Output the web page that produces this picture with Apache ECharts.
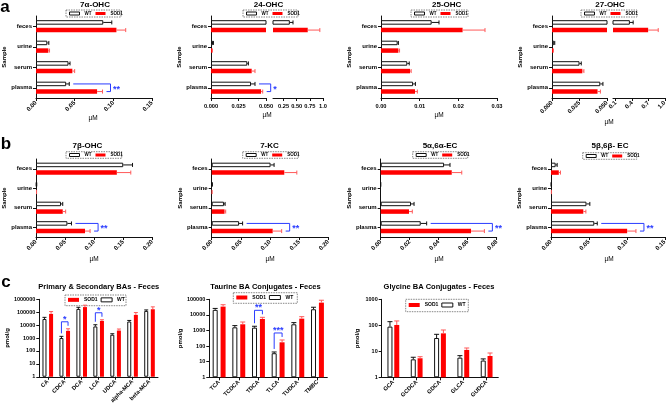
<!DOCTYPE html>
<html><head><meta charset="utf-8">
<script src="https://cdn.jsdelivr.net/npm/echarts/dist/echarts.min.js"></script>
<style>html,body{margin:0;padding:0;background:#fff}#c{width:669px;height:406px}</style>
</head><body><div id="c"></div>
<script>
// ================= DATA =================
const sampleCats = ['feces', 'urine', 'serum', 'plasma'];

// a — 7α-OHC (µM)
const ohc7a_WT = [0.087, 0.0146, 0.042, 0.039];
const ohc7a_WT_sd = [0.011, 0.002, 0.002, 0.004];
const ohc7a_SOD1 = [0.104, 0.016, 0.047, 0.079];
const ohc7a_SOD1_sd = [0.012, 0.0015, 0.003, 0.007];
const ohc7a_sig = [['plasma', '**']];
const ohc7a_ticks = [0, 0.05, 0.1, 0.15];

// a — 24-OHC
const ohc24_WT = [0.37, 0.0018, 0.033, 0.0364];
const ohc24_WT_sd = [0.06, 0.0004, 0.001, 0.0036];
const ohc24_SOD1 = [0.71, 0.001, 0.037, 0.0455];
const ohc24_SOD1_sd = [0.23, 0.0003, 0.003, 0.0015];
const ohc24_sig = [['plasma', '*']];
const ohc24_ticks1 = [0, 0.025, 0.05];
const ohc24_ticks2 = [0.25, 0.5, 0.75, 1.0];

// a — 25-OHC
const ohc25_WT = [0.0131, 0.0043, 0.0068, 0.0083];
const ohc25_WT_sd = [0.0019, 0.0002, 0.0005, 0.0006];
const ohc25_SOD1 = [0.0211, 0.0045, 0.0075, 0.0088];
const ohc25_SOD1_sd = [0.0058, 0.0003, 0.0003, 0.0006];
const ohc25_sig = [];
const ohc25_ticks = [0, 0.01, 0.02, 0.03];

// a — 27-OHC
const ohc27_WT = [0.36, 0.002, 0.025, 0.0439];
const ohc27_WT_sd = [0.06, 0.0005, 0.0016, 0.0024];
const ohc27_SOD1 = [0.695, 0.001, 0.0276, 0.0414];
const ohc27_SOD1_sd = [0.185, 0.0003, 0.0014, 0.0026];
const ohc27_sig = [];
const ohc27_ticks1 = [0, 0.025, 0.05];
const ohc27_ticks2 = [0.1, 0.4, 0.7, 1.0];

// b — 7β-OHC
const ohc7b_WT = [0.150, 0.001, 0.043, 0.054];
const ohc7b_WT_sd = [0.016, 0.0003, 0.003, 0.007];
const ohc7b_SOD1 = [0.139, 0.0008, 0.046, 0.0843];
const ohc7b_SOD1_sd = [0.024, 0.0002, 0.005, 0.0087];
const ohc7b_sig = [['plasma', '**']];
const ohc7b_ticks = [0, 0.05, 0.1, 0.15, 0.2];

// b — 7-KC
const kc7_WT = [0.101, 0.0008, 0.021, 0.047];
const kc7_WT_sd = [0.006, 0.0002, 0.002, 0.006];
const kc7_SOD1 = [0.1245, 0.0006, 0.022, 0.1046];
const kc7_SOD1_sd = [0.0215, 0.0002, 0.002, 0.0154];
const kc7_sig = [['plasma', '**']];
const kc7_ticks = [0, 0.05, 0.1, 0.15, 0.2];

// b — 5α,6α-EC
const ec56a_WT = [0.0437, 0, 0.0209, 0.0276];
const ec56a_WT_sd = [0.0041, 0, 0.0021, 0.0041];
const ec56a_SOD1 = [0.049, 0, 0.0195, 0.0623];
const ec56a_SOD1_sd = [0.0069, 0, 0.0023, 0.0092];
const ec56a_sig = [['plasma', '**']];
const ec56a_ticks = [0, 0.02, 0.04, 0.06, 0.08];

// b — 5β,6β-EC
const ec56b_WT = [0.0061, 0.0005, 0.0468, 0.0571];
const ec56b_WT_sd = [0.002, 0.0002, 0.0044, 0.0039];
const ec56b_SOD1 = [0.0103, 0.0004, 0.0426, 0.1004];
const ec56b_SOD1_sd = [0.0022, 0.0001, 0.0034, 0.0116];
const ec56b_sig = [['plasma', '**']];
const ec56b_ticks = [0, 0.05, 0.1, 0.15];

// c — Primary & Secondary BAs (pmol/g)
const baCats = ['CA', 'CDCA', 'DCA', 'LCA', 'UDCA', 'alpha-MCA', 'beta-MCA'];
const ba_WT = [30000, 1000, 180000, 7900, 1800, 19000, 126000];
const ba_WT_sd = [10000, 350, 60000, 2800, 350, 4000, 24000];
const ba_SOD1 = [74000, 3600, 250000, 21000, 3800, 62000, 170000];
const ba_SOD1_sd = [38000, 1600, 100000, 5000, 1200, 32000, 90000];
const ba_sig = [['CDCA', '*'], ['LCA', '*']];
const ba_ticks = [1, 10, 100, 1000, 10000, 100000, 1000000];

// c — Taurine BA conjugates
const tauCats = ['TCA', 'TCDCA', 'TDCA', 'TLCA', 'TUDCA', 'TMBC'];
const tau_WT = [21000, 1600, 1520, 35, 2500, 23000];
const tau_WT_sd = [5000, 460, 350, 7, 700, 8000];
const tau_SOD1 = [34000, 2500, 5500, 175, 5750, 61000];
const tau_SOD1_sd = [11000, 1000, 1500, 72, 1950, 26000];
const tau_sig = [['TDCA', '**'], ['TLCA', '***']];
const tau_ticks = [1, 10, 100, 1000, 10000, 100000];

// c — Glycine BA conjugates
const glyCats = ['GCA', 'GCDCA', 'GDCA', 'GLCA', 'GUDCA'];
const gly_WT = [89, 4.9, 32.5, 5.7, 4.4];
const gly_WT_sd = [49, 1.0, 12.5, 1.1, 0.7];
const gly_SOD1 = [103, 5.4, 49, 11.3, 6.6];
const gly_SOD1_sd = [44, 0.8, 17, 2.1, 2.0];
const gly_sig = [];
const gly_ticks = [1, 10, 100, 1000];

// ================= STYLE / BUILD =================
const FONT = '"Liberation Sans", Arial, Helvetica, sans-serif';
const BLACK = '#111111';
const RED = '#ff0000';
const RED_ERR = '#ff5a5a';
const BLUE = '#2a3cff';

const option = {
  animation: false,
  textStyle: { fontFamily: FONT },
  grid: [], xAxis: [], yAxis: [], series: [], title: [], legend: [], graphic: []
};

const fmt1 = v => v.toFixed(1);
const fmt2 = v => v.toFixed(2);
const fmt3 = v => v.toFixed(3);
const fmtSeg = v => (v === 1 ? '1.0' : v.toFixed(2));

function addTitle(text, cx, cy, fs) {
  option.title.push({
    text, left: cx, top: cy - fs / 2, textAlign: 'center', padding: 0,
    textStyle: { fontSize: fs, fontWeight: 'bold', color: '#000', fontFamily: FONT }
  });
}
function addLegend(box, order, big) {
  const [x, y, w, h] = box;
  option.graphic.push({
    type: 'rect', silent: true, shape: { x: x, y: y, width: w, height: h },
    style: { fill: 'none', stroke: '#555', lineWidth: 0.7, lineDash: [1.5, 1] }
  });
  const items = {
    WT: { name: 'WT', itemStyle: { color: '#fff', borderColor: BLACK, borderWidth: 1 } },
    SOD1: { name: 'SOD1', itemStyle: { color: RED, borderWidth: 0 } }
  };
  option.legend.push({
    left: x + 3, top: y + h / 2 - (big ? 3 : 2.5), padding: 0, orient: 'horizontal',
    itemGap: big ? 3 : 4, itemWidth: big ? 11 : 10, itemHeight: big ? 4 : 3, icon: 'rect',
    selectedMode: false, data: order.map(n => items[n]),
    textStyle: { fontSize: big ? 5 : 4.5, fontWeight: 'bold', color: '#000', fontFamily: FONT }
  });
}
function addAxisName(text, x, y, rotate) {
  option.graphic.push({
    type: 'text', x: x, y: y, rotation: rotate ? Math.PI / 2 : 0, silent: true,
    style: { text: text, fill: '#000', font: (rotate ? 'bold 6px ' : '6.5px ') + FONT, align: 'center', verticalAlign: 'middle' }
  });
}

// ---- horizontal (rows a, b) ----
const HBW = 4.5, HGAP = 0.7, HD = (HBW + HBW * HGAP) / 2;

function hErr(sign, color) {
  return function (params, api) {
    const cat = api.value(1);
    const p0 = api.coord([api.value(0), cat]);
    const p1 = api.coord([api.value(2), cat]);
    const y = p0[1] + sign * HD;
    return {
      type: 'group', children: [
        { type: 'line', shape: { x1: p0[0], y1: y, x2: p1[0], y2: y }, style: { stroke: color, lineWidth: 1 } },
        { type: 'line', shape: { x1: p1[0], y1: y - 2, x2: p1[0], y2: y + 2 }, style: { stroke: color, lineWidth: 1 } }
      ]
    };
  };
}
function hSig(labels) {
  return function (params, api) {
    const cat = api.value(1);
    const a = api.coord([api.value(0), cat]);
    const b = api.coord([api.value(2), cat]);
    const yw = a[1] - HD, ys = a[1] + HD;
    const xv = Math.max(a[0], b[0]) + 8;
    return {
      type: 'group', children: [
        { type: 'polyline', shape: { points: [[a[0] + 4, yw], [xv, yw], [xv, ys], [b[0] + 4, ys]] },
          style: { stroke: BLUE, lineWidth: 1, fill: null } },
        { type: 'text', x: xv + 2.5, y: a[1] + 1.5,
          style: { text: labels[params.dataIndex], fill: BLUE, font: 'bold 9px ' + FONT, align: 'left', verticalAlign: 'middle' } }
      ]
    };
  };
}

function hPanel(p) {
  p.segs.forEach((s, si) => {
    const first = si === 0;
    const gi = option.grid.length;
    option.grid.push({ left: s.left, top: p.top, width: s.width, height: p.height });
    option.xAxis.push({
      gridIndex: gi, type: 'value', min: s.min, max: s.max,
      axisLine: { show: true, onZero: false, lineStyle: { color: BLACK, width: 1 } },
      axisTick: { show: true, length: 3, lineStyle: { color: BLACK, width: 1 }, customValues: s.ticks },
      axisLabel: { color: '#000', fontSize: s.rotate ? 6 : 5.7, fontWeight: 'bold', fontFamily: FONT,
        rotate: s.rotate || 0, margin: s.rotate ? 4 : 5, formatter: s.fmt, customValues: s.ticks },
      splitLine: { show: false }
    });
    option.yAxis.push({
      gridIndex: gi, type: 'category', data: sampleCats, inverse: true,
      axisLine: { show: first, lineStyle: { color: BLACK, width: 1 } },
      axisTick: { show: first, alignWithLabel: true, length: 3, lineStyle: { color: BLACK, width: 1 } },
      axisLabel: { show: first, color: '#000', fontSize: 6, fontWeight: 'bold', fontFamily: FONT, margin: 4, interval: 0 },
      splitLine: { show: false },
      name: first ? 'Sample' : '', nameLocation: 'middle', nameGap: 25, nameRotate: 90,
      nameTextStyle: { fontSize: 6, fontWeight: 'bold', color: '#000', fontFamily: FONT }
    });
    const ax = { xAxisIndex: gi, yAxisIndex: gi };
    option.series.push(Object.assign({
      type: 'bar', name: 'WT', data: p.wt, barWidth: HBW, barGap: (HGAP * 100) + '%', clip: true,
      itemStyle: { color: '#fff', borderColor: BLACK, borderWidth: 1 }
    }, ax));
    option.series.push(Object.assign({
      type: 'bar', name: 'SOD1', data: p.sod, barWidth: HBW, barGap: (HGAP * 100) + '%', clip: true,
      itemStyle: { color: RED }
    }, ax));
    const errData = (m, sd) => m.map((v, i) => [v, i, v + sd[i]])
      .filter(d => d[0] >= s.min && d[2] <= s.max && d[2] > d[0]);
    option.series.push(Object.assign({
      type: 'custom', name: 'errWT', data: errData(p.wt, p.wtSd), renderItem: hErr(-1, BLACK), z: 3, silent: true
    }, ax));
    option.series.push(Object.assign({
      type: 'custom', name: 'errSOD1', data: errData(p.sod, p.sodSd), renderItem: hErr(1, RED_ERR), z: 3, silent: true
    }, ax));
    if (first && p.sig.length) {
      const idx = p.sig.map(sg => sampleCats.indexOf(sg[0]));
      option.series.push(Object.assign({
        type: 'custom', name: 'sig', silent: true, z: 4,
        data: idx.map(i => [p.wt[i] + p.wtSd[i], i, p.sod[i] + p.sodSd[i]]),
        renderItem: hSig(p.sig.map(sg => sg[1]))
      }, ax));
    }
  });
}

// ---- vertical log (row c) ----
function vErr(D, bw, color) {
  return function (params, api) {
    const cat = api.value(0);
    const p0 = api.coord([cat, api.value(1)]);
    const p1 = api.coord([cat, api.value(2)]);
    const x = p0[0] + D;
    return {
      type: 'group', children: [
        { type: 'line', shape: { x1: x, y1: p0[1], x2: x, y2: p1[1] }, style: { stroke: color, lineWidth: 1 } },
        { type: 'line', shape: { x1: x - bw / 2, y1: p1[1], x2: x + bw / 2, y2: p1[1] }, style: { stroke: color, lineWidth: 1 } }
      ]
    };
  };
}
function vSig(D, labels) {
  return function (params, api) {
    const cat = api.value(0);
    const a = api.coord([cat, api.value(1)]);
    const b = api.coord([cat, api.value(2)]);
    const xw = a[0] - D, xs = a[0] + D;
    const top = Math.min(a[1], b[1]) - 7;
    return {
      type: 'group', children: [
        { type: 'polyline', shape: { points: [[xw, a[1] - 3], [xw, top], [xs, top], [xs, b[1] - 3]] },
          style: { stroke: BLUE, lineWidth: 1, fill: null } },
        { type: 'text', x: a[0], y: top + 2,
          style: { text: labels[params.dataIndex], fill: BLUE, font: 'bold 9px ' + FONT, align: 'center', verticalAlign: 'bottom' } }
      ]
    };
  };
}
function vPanel(p) {
  const gi = option.grid.length;
  const D = (p.bw + p.bw * p.gap) / 2;
  option.grid.push({ left: p.left, top: p.top, width: p.width, height: p.height });
  option.xAxis.push({
    gridIndex: gi, type: 'category', data: p.cats,
    axisLine: { show: true, lineStyle: { color: BLACK, width: 1 } },
    axisTick: { show: true, alignWithLabel: true, length: 3, lineStyle: { color: BLACK } },
    axisLabel: { color: '#000', fontSize: 5.7, fontWeight: 'bold', fontFamily: FONT, rotate: 45, interval: 0, margin: 4 },
    splitLine: { show: false }
  });
  option.yAxis.push({
    gridIndex: gi, type: 'log', logBase: 10, min: p.ticks[0], max: p.ticks[p.ticks.length - 1],
    axisLine: { show: true, lineStyle: { color: BLACK, width: 1 } },
    axisTick: { show: true, length: 3, lineStyle: { color: BLACK }, customValues: p.ticks },
    axisLabel: { color: '#000', fontSize: 5.5, fontWeight: 'bold', fontFamily: FONT, margin: 4,
      customValues: p.ticks, formatter: v => String(Math.round(v)) },
    minorTick: { show: false }, splitLine: { show: false },
    name: 'pmol/g', nameLocation: 'middle', nameGap: p.nameGap, nameRotate: 90,
    nameTextStyle: { fontSize: 6, fontWeight: 'bold', color: '#000', fontFamily: FONT }
  });
  const ax = { xAxisIndex: gi, yAxisIndex: gi };
  option.series.push(Object.assign({
    type: 'bar', name: 'WT', data: p.wt, barWidth: p.bw, barGap: (p.gap * 100) + '%',
    itemStyle: { color: '#fff', borderColor: BLACK, borderWidth: 1 }
  }, ax));
  option.series.push(Object.assign({
    type: 'bar', name: 'SOD1', data: p.sod, barWidth: p.bw, barGap: (p.gap * 100) + '%',
    itemStyle: { color: RED }
  }, ax));
  const errData = (m, sd) => m.map((v, i) => [i, v, v + sd[i]]);
  option.series.push(Object.assign({
    type: 'custom', name: 'errWT', data: errData(p.wt, p.wtSd), renderItem: vErr(-D, p.bw, BLACK), z: 3, silent: true
  }, ax));
  option.series.push(Object.assign({
    type: 'custom', name: 'errSOD1', data: errData(p.sod, p.sodSd), renderItem: vErr(D, p.bw, RED_ERR), z: 3, silent: true
  }, ax));
  if (p.sig.length) {
    const idx = p.sig.map(sg => p.cats.indexOf(sg[0]));
    option.series.push(Object.assign({
      type: 'custom', name: 'sig', silent: true, z: 4,
      data: idx.map(i => [i, p.wt[i] + p.wtSd[i], p.sod[i] + p.sodSd[i]]),
      renderItem: vSig(D, p.sig.map(sg => sg[1]))
    }, ax));
  }
}

// ---------- row a ----------
const AT = 16, AH = 82;
hPanel({ top: AT, height: AH, wt: ohc7a_WT, wtSd: ohc7a_WT_sd, sod: ohc7a_SOD1, sodSd: ohc7a_SOD1_sd, sig: ohc7a_sig,
  segs: [{ left: 36, width: 116, min: 0, max: 0.15, ticks: ohc7a_ticks, fmt: fmt2, rotate: 45 }] });
hPanel({ top: AT, height: AH, wt: ohc24_WT, wtSd: ohc24_WT_sd, sod: ohc24_SOD1, sodSd: ohc24_SOD1_sd, sig: ohc24_sig,
  segs: [{ left: 211, width: 55, min: 0, max: 0.05, ticks: ohc24_ticks1, fmt: fmt3 },
         { left: 273, width: 50, min: 0.05, max: 1.0, ticks: ohc24_ticks2, fmt: fmtSeg }] });
hPanel({ top: AT, height: AH, wt: ohc25_WT, wtSd: ohc25_WT_sd, sod: ohc25_SOD1, sodSd: ohc25_SOD1_sd, sig: ohc25_sig,
  segs: [{ left: 381, width: 116, min: 0, max: 0.03, ticks: ohc25_ticks, fmt: fmt2 }] });
hPanel({ top: AT, height: AH, wt: ohc27_WT, wtSd: ohc27_WT_sd, sod: ohc27_SOD1, sodSd: ohc27_SOD1_sd, sig: ohc27_sig,
  segs: [{ left: 552, width: 55, min: 0, max: 0.05, ticks: ohc27_ticks1, fmt: fmt3, rotate: 45 },
         { left: 613, width: 53, min: 0.05, max: 1.0, ticks: ohc27_ticks2, fmt: fmt1, rotate: 45 }] });

// ---------- row b ----------
const BT = 159, BH = 78;
hPanel({ top: BT, height: BH, wt: ohc7b_WT, wtSd: ohc7b_WT_sd, sod: ohc7b_SOD1, sodSd: ohc7b_SOD1_sd, sig: ohc7b_sig,
  segs: [{ left: 36, width: 116.3, min: 0, max: 0.2, ticks: ohc7b_ticks, fmt: fmt2, rotate: 45 }] });
hPanel({ top: BT, height: BH, wt: kc7_WT, wtSd: kc7_WT_sd, sod: kc7_SOD1, sodSd: kc7_SOD1_sd, sig: kc7_sig,
  segs: [{ left: 211.7, width: 116.6, min: 0, max: 0.2, ticks: kc7_ticks, fmt: fmt2, rotate: 45 }] });
hPanel({ top: BT, height: BH, wt: ec56a_WT, wtSd: ec56a_WT_sd, sod: ec56a_SOD1, sodSd: ec56a_SOD1_sd, sig: ec56a_sig,
  segs: [{ left: 380.7, width: 116, min: 0, max: 0.08, ticks: ec56a_ticks, fmt: fmt2, rotate: 45 }] });
hPanel({ top: BT, height: BH, wt: ec56b_WT, wtSd: ec56b_WT_sd, sod: ec56b_SOD1, sodSd: ec56b_SOD1_sd, sig: ec56b_sig,
  segs: [{ left: 551, width: 116.3, min: 0, max: 0.15, ticks: ec56b_ticks, fmt: fmt2, rotate: 45 }] });

// ---------- row c ----------
vPanel({ left: 39.3, top: 299.3, width: 118.7, height: 78, cats: baCats, wt: ba_WT, wtSd: ba_WT_sd, sod: ba_SOD1, sodSd: ba_SOD1_sd,
  sig: ba_sig, ticks: ba_ticks, bw: 4, gap: 0.65, nameGap: 22 });
vPanel({ left: 209.3, top: 299.3, width: 118, height: 78, cats: tauCats, wt: tau_WT, wtSd: tau_WT_sd, sod: tau_SOD1, sodSd: tau_SOD1_sd,
  sig: tau_sig, ticks: tau_ticks, bw: 5, gap: 0.58, nameGap: 24.5 });
vPanel({ left: 381.7, top: 299.3, width: 116.6, height: 78, cats: glyCats, wt: gly_WT, wtSd: gly_WT_sd, sod: gly_SOD1, sodSd: gly_SOD1_sd,
  sig: gly_sig, ticks: gly_ticks, bw: 5, gap: 0.36, nameGap: 21 });

// ---------- titles, legends, letters ----------
addTitle('a', 5, 7, 17); addTitle('b', 6, 144, 17); addTitle('c', 6, 282, 17);
addTitle('7α-OHC', 95, 5, 8); addTitle('24-OHC', 268.5, 5, 8); addTitle('25-OHC', 446.7, 5, 8); addTitle('27-OHC', 610, 5, 8);
addTitle('7β-OHC', 87.5, 145.5, 8); addTitle('7-KC', 269.5, 145.5, 8); addTitle('5α,6α-EC', 440, 145.5, 8); addTitle('5β,6β- EC', 610, 145.5, 8);
addTitle('Primary & Secondary BAs - Feces', 98.8, 286.7, 7.5);
addTitle('Taurine BA Conjugates - Feces', 265.5, 286.7, 7.5);
addTitle('Glycine BA Conjugates - Feces', 439, 286.7, 7.5);

addLegend([66, 10, 55, 7], ['WT', 'SOD1'], false);
addLegend([243, 10, 55, 7], ['WT', 'SOD1'], false);
addLegend([411, 10, 57, 7], ['WT', 'SOD1'], false);
addLegend([581, 10, 56, 7], ['WT', 'SOD1'], false);
addLegend([66, 151.7, 55.7, 6.6], ['WT', 'SOD1'], false);
addLegend([242.7, 151.7, 55.6, 6.6], ['WT', 'SOD1'], false);
addLegend([412.7, 151.7, 55, 6.6], ['WT', 'SOD1'], false);
addLegend([582.7, 152.7, 54, 6.6], ['WT', 'SOD1'], false);
addLegend([65, 295, 61, 10.7], ['SOD1', 'WT'], true);
addLegend([233.3, 292.7, 64, 10.6], ['SOD1', 'WT'], true);
addLegend([405.7, 299.3, 62.6, 12.4], ['SOD1', 'WT'], true);

// x-axis titles (µM), centred under each panel's axis
[[93, 118], [267, 115], [439, 115], [609, 122], [94, 259], [270, 259], [439, 259], [609, 259]]
  .forEach(([x, y]) => addAxisName('µM', x, y, false));

const chart = echarts.init(document.getElementById('c'), null, { renderer: 'canvas' });
chart.setOption(option);
</script>
</body></html>
